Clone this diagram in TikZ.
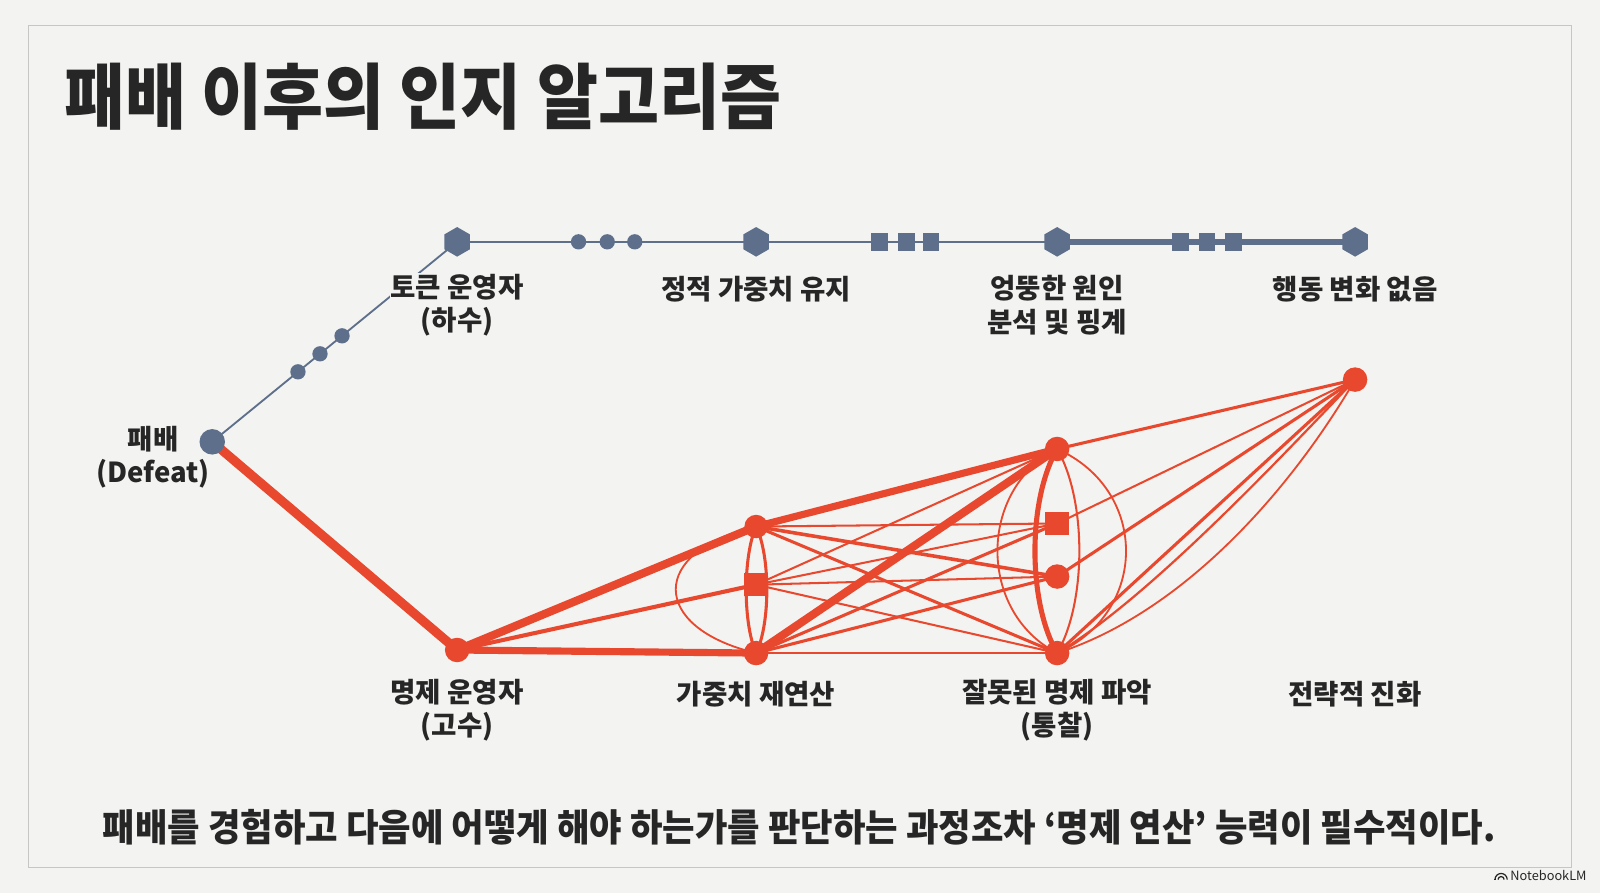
\documentclass[tikz,border=0pt]{standalone}
\usepackage{fontspec}
\setmainfont{Noto Sans CJK KR}
\usetikzlibrary{shapes.geometric,calc}
\pgfdeclarelayer{back}
\pgfdeclarelayer{bg}
\pgfsetlayers{back,bg,main}
\definecolor{bgc}{HTML}{F3F3F1}
\definecolor{framec}{HTML}{C6C6C6}
\definecolor{slate}{HTML}{5E6F8B}
\definecolor{rd}{HTML}{E8492E}
\definecolor{txt}{HTML}{262626}
\begin{document}
\begin{tikzpicture}[x=1pt,y=-1pt,
  hexnode/.style={regular polygon, regular polygon sides=6, shape border rotate=30, fill=slate, minimum size=29pt, inner sep=0pt},
  gdot/.style={circle, fill=slate, minimum size=15pt, inner sep=0pt},
  gbig/.style={circle, fill=slate, minimum size=25pt, inner sep=0pt},
  gsq/.style={rectangle, fill=slate, minimum width=16pt, minimum height=17pt, inner sep=0pt},
  rdot/.style={circle, fill=rd, minimum size=24pt, inner sep=0pt},
  rsq/.style={rectangle, fill=rd, minimum size=23pt, inner sep=0pt},
  lbl/.style={font=\fontsize{27}{33}\selectfont\bfseries, text=txt, align=center, inner sep=1pt},
  gline/.style={draw=slate, line width=2pt},
  redge/.style={draw=rd, line cap=round},
]
\useasboundingbox (0,0) rectangle (1568,875);
\begin{pgfonlayer}{back}
\fill[bgc] (0,0) rectangle (1568,875);
\draw[framec, line width=1.2pt] (28,25) rectangle (1540,850);
\end{pgfonlayer}

% title
\node[anchor=west, text=txt, inner sep=0pt] (title) at (63,95) {\scalebox{1}[1.08]{\fontsize{65}{65}\selectfont\bfseries 패배 이후의 인지 알고리즘}};

% gray nodes
\node[gbig] (def) at (208,433) {};
\node[hexnode] (tok) at (448,237) {};
\node[hexnode] (stat) at (741,237) {};
\node[hexnode] (odd) at (1036,237) {};
\node[hexnode] (nochg) at (1328,237) {};
\node[gdot] (d1) at ($(def)!0.35!(tok)$) {};
\node[gdot] (d2) at ($(def)!0.44!(tok)$) {};
\node[gdot] (d3) at ($(def)!0.53!(tok)$) {};
\node[gdot] (g1) at ($(tok)!0.406!(stat)$) {};
\node[gdot] (g2) at ($(tok)!0.502!(stat)$) {};
\node[gdot] (g3) at ($(tok)!0.594!(stat)$) {};
\node[gsq] (s1) at ($(stat)!0.41!(odd)$) {};
\node[gsq] (s2) at ($(stat)!0.50!(odd)$) {};
\node[gsq] (s3) at ($(stat)!0.58!(odd)$) {};
\node[gsq] (t1) at ($(odd)!0.414!(nochg)$) {};
\node[gsq] (t2) at ($(odd)!0.503!(nochg)$) {};
\node[gsq] (t3) at ($(odd)!0.592!(nochg)$) {};

% red nodes
\node[rdot] (A) at (448,637) {};
\node[rdot, minimum size=23pt] (Bt) at (741,516) {};
\node[rsq] (Bs) at (741,573) {};
\node[rdot] (Bb) at (741,640) {};
\node[rdot] (Ct) at (1036,440) {};
\node[rsq] (Cs) at (1036,513) {};
\node[rdot] (Cc) at (1036,565) {};
\node[rdot] (Cb) at (1036,640) {};
\node[rdot] (D) at (1328,372) {};

% labels
\node[lbl, fill=bgc] (ltok) at (448,299) {토큰 운영자\\(하수)};
\node[lbl] (lstat) at (741,283) {정적 가중치 유지};
\node[lbl] (lodd) at (1036,299) {엉뚱한 원인\\분석 및 핑계};
\node[lbl] (lnochg) at (1328,283) {행동 변화 없음};
\node[lbl] (ldef) at (150,448) {패배\\(Defeat)};
\node[lbl] (lA) at (448,696) {명제 운영자\\(고수)};
\node[lbl] (lB) at (741,680) {가중치 재연산};
\node[lbl] (lC) at (1036,696) {잘못된 명제 파악\\(통찰)};
\node[lbl] (lD) at (1328,680) {전략적 진화};

% bottom sentence
\node[text=txt, inner sep=0pt] (note) at (783,811) {\scalebox{1}[1.07]{\fontsize{34.6}{35}\selectfont\bfseries 패배를 경험하고 다음에 어떻게 해야 하는가를 판단하는 과정조차 ‘명제 연산’ 능력이 필수적이다.}};

% watermark
\node[anchor=east, text=txt, inner sep=0pt] (wm) at (1555,858) {\fontsize{12.5}{12.5}\selectfont NotebookLM};
\coordinate (wmi) at ($(wm.west)+(-9,4)$);
\draw[txt, line width=1.2pt] ($(wmi)+(-6,0)$) arc[start angle=180,end angle=360,radius=6];
\draw[txt, line width=1.2pt] ($(wmi)+(-3,0)$) arc[start angle=180,end angle=360,radius=3];
\fill[txt] ($(wmi)+(-6.6,0)$) rectangle ($(wmi)+(-5.4,-1)$);

\begin{pgfonlayer}{bg}
% gray connectors
\draw[gline, line width=1.8pt] (def.center) -- (tok.center);
\draw[gline] (tok.center) -- (odd.center);
\draw[gline, line width=6pt] (odd.center) -- (nochg.center);

% red connectors
\draw[redge, line width=9pt] (def.center) -- (A.center);
\draw[redge, line width=8pt] (A.center) -- (Bt.center);
\draw[redge, line width=4pt] (A.center) -- (Bs.center);
\draw[redge, line width=7pt] (A.center) -- (Bb.center);
\draw[redge, line width=7pt] (Bt.center) -- (Ct.center);
\draw[redge, line width=8pt] (Bb.center) -- (Ct.center);
\draw[redge, line width=2pt] (Bt.center) -- (Cs.center);
\draw[redge, line width=3.5pt] (Bt.center) -- (Cc.center);
\draw[redge, line width=3pt] (Bt.center) -- (Cb.center);
\draw[redge, line width=2pt] (Bs.center) -- (Ct.center);
\draw[redge, line width=2pt] (Bs.center) -- (Cs.center);
\draw[redge, line width=2pt] (Bs.center) -- (Cc.center);
\draw[redge, line width=2pt] (Bs.center) -- (Cb.center);
\draw[redge, line width=3pt] (Bb.center) -- (Cs.center);
\draw[redge, line width=3pt] (Bb.center) -- (Cc.center);
\draw[redge, line width=2.5pt] (Bb.center) -- (Cb.center);
% B lens
\draw[redge, line width=3pt] (Bt.center) .. controls (728,545) and (728,611) .. (Bb.center);
\draw[redge, line width=3pt] (Bt.center) .. controls (755,545) and (755,611) .. (Bb.center);
\draw[redge, line width=1.8pt] (Bt.center) .. controls (636,540) and (636,615) .. (Bb.center);
% C lens
\draw[redge, line width=5pt] (Ct.center) .. controls (1007,490) and (1007,590) .. (Cb.center);
\draw[redge, line width=2pt] (Ct.center) .. controls (1065,490) and (1065,590) .. (Cb.center);
\draw[redge, line width=1.8pt] (Ct.center) .. controls (958,480) and (958,600) .. (Cb.center);
\draw[redge, line width=1.8pt] (Ct.center) .. controls (1126,480) and (1126,600) .. (Cb.center);
% to D
\draw[redge, line width=3pt] (Ct.center) -- (D.center);
\draw[redge, line width=2pt] (Cs.center) -- (D.center);
\draw[redge, line width=3pt] (Cc.center) -- (D.center);
\draw[redge, line width=3pt] (Cb.center) -- (D.center);
\draw[redge, line width=2.2pt] (Cb.center) .. controls (1120,590) and (1240,465) .. (D.center);
\draw[redge, line width=1.8pt] (Cb.center) .. controls (1160,600) and (1265,480) .. (D.center);
\end{pgfonlayer}
\end{tikzpicture}
\end{document}
